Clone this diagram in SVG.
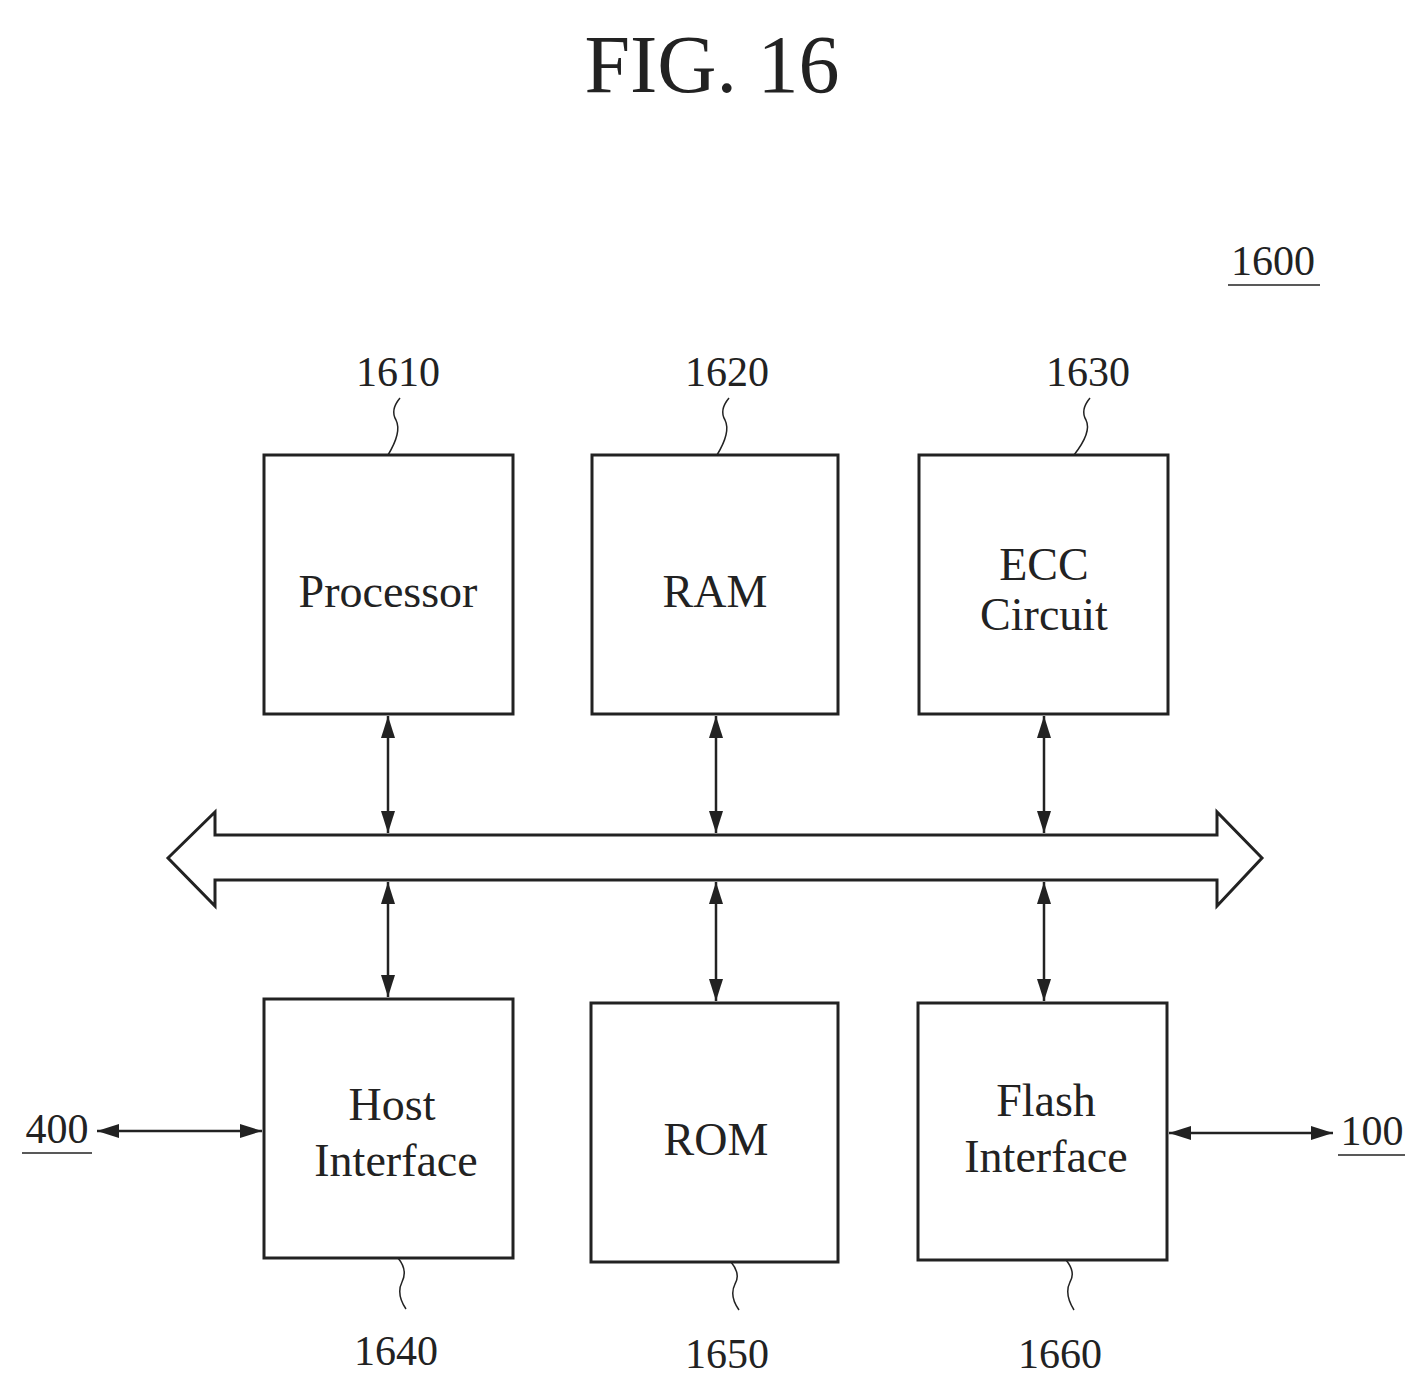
<svg xmlns="http://www.w3.org/2000/svg" width="1425" height="1393" viewBox="0 0 1425 1393">
<style>
.box{fill:none;stroke:#222;stroke-width:3}
.ln{fill:none;stroke:#222;stroke-width:2.5}
.ld{fill:none;stroke:#222;stroke-width:1.5}
.t{font-family:"Liberation Serif",serif;fill:#222;text-anchor:middle}
.lab{font-size:46px}
.num{font-size:42px}
</style>
<defs>
<marker id="ah2" viewBox="0 0 10 10" refX="10" refY="5" markerWidth="22" markerHeight="14" markerUnits="userSpaceOnUse" orient="auto-start-reverse" preserveAspectRatio="none"><path d="M0,0 L10,5 L0,10 z" fill="#222"/></marker>
</defs>
<rect width="1425" height="1393" fill="#fff"/>
<text class="t" x="712" y="92" font-size="82">FIG. 16</text>
<g id="n1600"><text class="t num" x="1273" y="275">1600</text><line class="ld" x1="1228" y1="285" x2="1320" y2="285"/></g>
<g id="n1610"><rect class="box" x="264" y="455" width="249" height="259"/><text class="t lab" x="388" y="607">Processor</text><text class="t num" x="398" y="386">1610</text><path class="ld" d="M400,398 q-10,12 -4,22 q6,12 -8,35"/></g>
<g id="n1620"><rect class="box" x="592" y="455" width="246" height="259"/><text class="t lab" x="715" y="607">RAM</text><text class="t num" x="727" y="386">1620</text><path class="ld" d="M729,398 q-10,12 -4,22 q6,12 -8,35"/></g>
<g id="n1630"><rect class="box" x="919" y="455" width="249" height="259"/><text class="t lab" x="1044" y="580">ECC</text><text class="t lab" x="1044" y="630">Circuit</text><text class="t num" x="1088" y="386">1630</text><path class="ld" d="M1090,398 q-10,12 -4,22 q6,12 -12,35"/></g>
<g id="n1640"><rect class="box" x="264" y="999" width="249" height="259"/><text class="t lab" x="392" y="1120">Host</text><text class="t lab" x="396" y="1176">Interface</text><text class="t num" x="396" y="1365">1640</text><path class="ld" d="M398,1258 q10,12 4,24 q-6,12 4,27"/></g>
<g id="n1650"><rect class="box" x="591" y="1003" width="247" height="259"/><text class="t lab" x="716" y="1155">ROM</text><text class="t num" x="727" y="1368">1650</text><path class="ld" d="M731,1262 q10,12 4,22 q-6,12 4,26"/></g>
<g id="n1660"><rect class="box" x="918" y="1003" width="249" height="257"/><text class="t lab" x="1046" y="1116">Flash</text><text class="t lab" x="1046" y="1172">Interface</text><text class="t num" x="1060" y="1368">1660</text><path class="ld" d="M1066,1260 q10,12 4,22 q-6,12 4,28"/></g>
<g id="n400"><text class="t num" x="57" y="1143">400</text><line class="ld" x1="22" y1="1153" x2="92" y2="1153"/></g>
<g id="n100"><text class="t num" x="1372" y="1145">100</text><line class="ld" x1="1338" y1="1155" x2="1405" y2="1155"/></g>
<g id="connectors">
<path class="box" d="M168,858 L215,812 L215,835 L1217,835 L1217,812 L1262,858 L1217,906 L1217,880 L215,880 L215,906 Z"/>
<line class="ln" x1="388" y1="716" x2="388" y2="833" marker-start="url(#ah2)" marker-end="url(#ah2)"/>
<line class="ln" x1="716" y1="716" x2="716" y2="833" marker-start="url(#ah2)" marker-end="url(#ah2)"/>
<line class="ln" x1="1044" y1="716" x2="1044" y2="833" marker-start="url(#ah2)" marker-end="url(#ah2)"/>
<line class="ln" x1="388" y1="882" x2="388" y2="997" marker-start="url(#ah2)" marker-end="url(#ah2)"/>
<line class="ln" x1="716" y1="882" x2="716" y2="1001" marker-start="url(#ah2)" marker-end="url(#ah2)"/>
<line class="ln" x1="1044" y1="882" x2="1044" y2="1001" marker-start="url(#ah2)" marker-end="url(#ah2)"/>
<line class="ln" x1="97" y1="1131" x2="262" y2="1131" marker-start="url(#ah2)" marker-end="url(#ah2)"/>
<line class="ln" x1="1169" y1="1133" x2="1333" y2="1133" marker-start="url(#ah2)" marker-end="url(#ah2)"/>
</g>
</svg>
